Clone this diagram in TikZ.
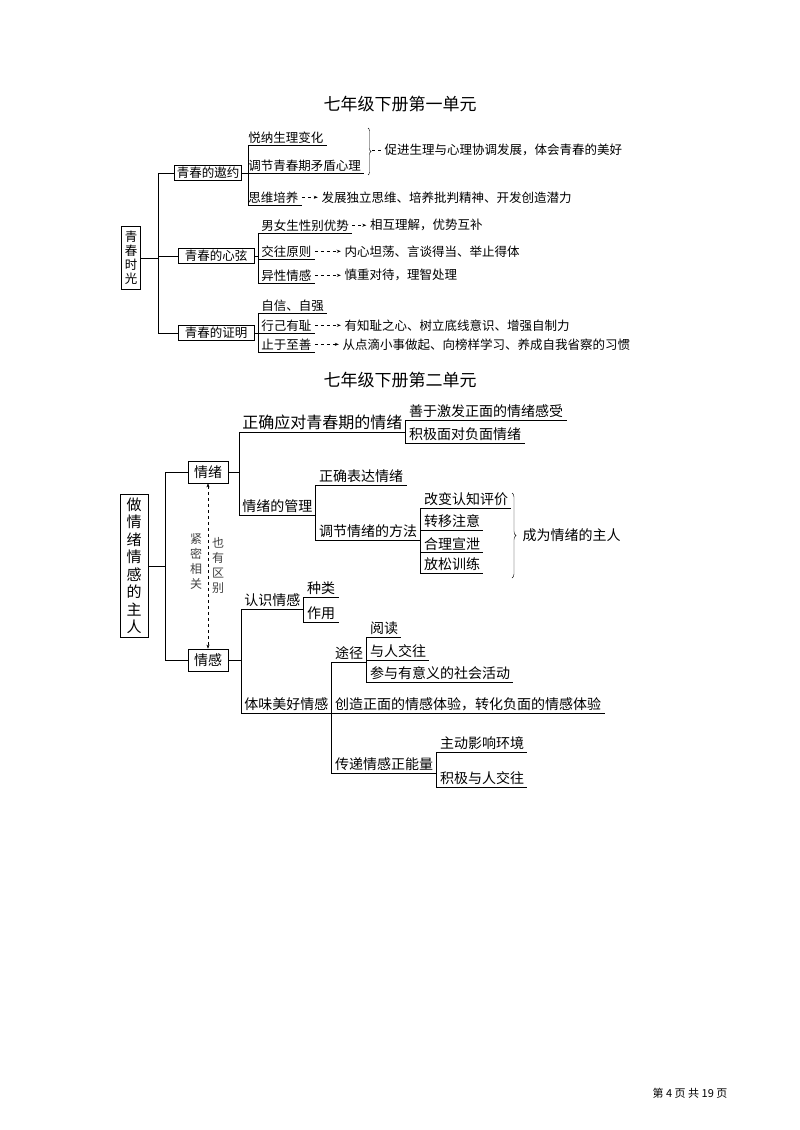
\documentclass[tikz,border=0pt]{standalone}
\usepackage{fontspec}
\newfontfamily\cjk{Noto Sans CJK SC}
\usetikzlibrary{positioning,calc,arrows.meta,decorations.pathreplacing}
\tikzset{
  every node/.style={font=\cjk},
  topbox/.style={draw, thick, inner sep=2pt},
  rootbox/.style={draw, thick, align=center, inner sep=3pt},
  lf/.style={anchor=south west, inner xsep=3pt, inner ysep=1.5pt},
  ta/.style={dashed, -{Stealth[length=4pt]}},
  sa/.style={font=\cjk\fontsize{12.5}{14}\selectfont},
  sb/.style={font=\cjk\fontsize{14}{16}\selectfont},
}
\begin{document}
\begin{tikzpicture}[x=1pt, y=-1pt, thick]
\useasboundingbox (0,0) rectangle (800,1130);

% first unit
\node[font=\cjk\fontsize{17}{20}\selectfont] (t1) at (400,104) {七年级下册第一单元};
\node[rootbox, sa, minimum height=63pt] (qc) at (131,258) {青\\春\\时\\光};
\node[topbox, sa, minimum width=60pt] (yy) at (208,173) {青春的遨约};
\node[topbox, sa, minimum width=76pt] (xx) at (216,256) {青春的心弦};
\node[topbox, sa, minimum width=76pt] (zm) at (216,333) {青春的证明};
\draw (qc.east) -- ++(18,0) coordinate (qcj);
\foreach \b in {yy,xx,zm} \draw (qcj) |- (\b.west);

% the invitation of youth
\node[lf, sa] (yn) at (245,145) {悦纳生理变化};
\node[lf, sa] (tj1) at (245,173) {调节青春期矛盾心理};
\node[lf, sa] (sw) at (245,205) {思维培养};
\node[sa, right=16pt of sw] (swr) {发展独立思维、培养批判精神、开发创造潜力};
\draw (yy.east) -- ++(7,0) coordinate (yyj);
\foreach \l in {yn,tj1,sw} \draw (yyj) |- (\l.south east);
\draw[ta] (sw.east) -- (swr.west);
\draw[thin, decorate, decoration={brace, amplitude=3pt}] (368,128) -- (368,175) coordinate[midway] (brc);
\node[sa, anchor=west] (cj) at (381,150) {促进生理与心理协调发展，体会青春的美好};
\draw[thin, dashed] (372,150) -- (cj.west);

% the heartstrings of youth
\node[lf, sa] (nn) at (258,233) {男女生性别优势};
\node[lf, sa] (jw) at (258,259) {交往原则};
\node[lf, sa] (yx) at (258,283) {异性情感};
\node[sa, right=14pt of nn] (nnr) {相互理解，优势互补};
\node[sa, right=26pt of jw] (jwr) {内心坦荡、言谈得当、举止得体};
\node[sa, right=26pt of yx] (yxr) {慎重对待，理智处理};
\draw (xx.east) -- ++(4,0) coordinate (xxj);
\foreach \l in {nn,jw,yx} \draw (xxj) |- (\l.south east);
\draw[ta] (nn.east) -- (nnr.west);
\draw[ta] (jw.east) -- (jwr.west);
\draw[ta] (yx.east) -- (yxr.west);

% the proof of youth
\node[lf, sa] (zx) at (258,313) {自信、自强};
\node[lf, sa] (xj) at (258,333) {行己有耻};
\node[lf, sa] (zy1) at (258,352) {止于至善};
\node[sa, right=26pt of xj] (xjr) {有知耻之心、树立底线意识、增强自制力};
\node[sa, right=24pt of zy1] (zyr) {从点滴小事做起、向榜样学习、养成自我省察的习惯};
\draw (zm.east) -- ++(4,0) coordinate (zmj);
\foreach \l in {zx,xj,zy1} \draw (zmj) |- (\l.south east);
\draw[ta] (xj.east) -- (xjr.west);
\draw[ta] (zy1.east) -- (zyr.west);

% second unit
\node[font=\cjk\fontsize{17}{20}\selectfont] (t2) at (400,380) {七年级下册第二单元};
\node[rootbox, font=\cjk\fontsize{15}{17.5}\selectfont, minimum height=136pt, minimum width=28pt] (zr) at (134,566) {做\\情\\绪\\情\\感\\的\\主\\人};
\node[topbox, sb, minimum width=40pt, minimum height=22pt] (qx) at (208,472) {情绪};
\node[topbox, sb, minimum width=40pt, minimum height=22pt] (qg) at (208,660) {情感};
\draw (zr.east) -- ++(17,0) coordinate (zrj);
\foreach \b in {qx,qg} \draw (zrj) |- (\b.west);
\draw[thin, dashed, {Stealth[length=4pt]}-{Stealth[length=4pt]}] (qx.south) -- (qg.north);
\node[align=center, font=\cjk\fontsize{12}{15}\selectfont, text=black!75] (jm) at (196,562) {紧\\密\\相\\关};
\node[align=center, font=\cjk\fontsize{12}{15}\selectfont, text=black!75] (yq) at (218,565) {也\\有\\区\\别};

% emotions
\draw (qx.east) -- ++(11,0) coordinate (qxj);
\node[lf, font=\cjk\fontsize{16}{18}\selectfont] (zq) at (239,432) {正确应对青春期的情绪};
\node[lf, sb] (gl) at (239,515) {情绪的管理};
\foreach \l in {zq,gl} \draw (qxj) |- (\l.south east);
\node[lf, sb] (s1) at ($(zq.south east)+(0,-12)$) {善于激发正面的情绪感受};
\node[lf, sb] (s2) at ($(zq.south east)+(0,11)$) {积极面对负面情绪};
\foreach \l in {s1,s2} \draw (zq.south east) |- (\l.south east);
\node[lf, sb] (bd) at ($(gl.south east)+(0,-30)$) {正确表达情绪};
\node[lf, sb] (ff) at ($(gl.south east)+(0,25)$) {调节情绪的方法};
\foreach \l in {bd,ff} \draw (gl.south east) |- (\l.south east);
\node[lf, sb] (m1) at ($(ff.south east)+(0,-32)$) {改变认知评价};
\node[lf, sb] (m2) at ($(ff.south east)+(0,-10)$) {转移注意};
\node[lf, sb] (m3) at ($(ff.south east)+(0,12)$) {合理宣泄};
\node[lf, sb] (m4) at ($(ff.south east)+(0,33)$) {放松训练};
\foreach \l in {m1,m2,m3,m4} \draw (ff.south east) |- (\l.south east);
\draw[thin, decorate, decoration={brace, amplitude=4pt}] (512,493) -- (512,578);
\node[sb, anchor=west] (cw) at (519,535) {成为情绪的主人};

% feelings
\draw (qg.east) -- ++(13,0) coordinate (qgj);
\node[lf, sb] (rs) at (241,609) {认识情感};
\node[lf, sb] (tw) at (241,713) {体味美好情感};
\foreach \l in {rs,tw} \draw (qgj) |- (\l.south east);
\node[lf, sb] (zl) at ($(rs.south east)+(0,-12)$) {种类};
\node[lf, sb] (zyy) at ($(rs.south east)+(0,13)$) {作用};
\foreach \l in {zl,zyy} \draw (rs.south east) |- (\l.south east);
\node[lf, sb] (cz) at (tw.south east) {创造正面的情感体验，转化负面的情感体验};
\draw (tw.south east) -- (cz.south east);
\node[lf, sb] (tj) at ($(tw.south east)+(0,-51)$) {途径};
\node[lf, sb] (cd) at ($(tw.south east)+(0,60)$) {传递情感正能量};
\foreach \l in {tj,cd} \draw (tw.south east) |- (\l.south east);
\node[lf, sb] (yd) at ($(tj.south east)+(0,-25)$) {阅读};
\node[lf, sb] (yr) at ($(tj.south east)+(0,-2)$) {与人交往};
\node[lf, sb] (cy) at ($(tj.south east)+(0,20)$) {参与有意义的社会活动};
\foreach \l in {yd,yr,cy} \draw (tj.south east) |- (\l.south east);
\node[lf, sb] (zd) at ($(cd.south east)+(0,-21)$) {主动影响环境};
\node[lf, sb] (jj) at ($(cd.south east)+(0,14)$) {积极与人交往};
\foreach \l in {zd,jj} \draw (cd.south east) |- (\l.south east);

\node[font=\cjk\fontsize{11}{13}\selectfont] (ym) at (690,1093) {第 4 页 共 19 页};
\end{tikzpicture}
\end{document}
